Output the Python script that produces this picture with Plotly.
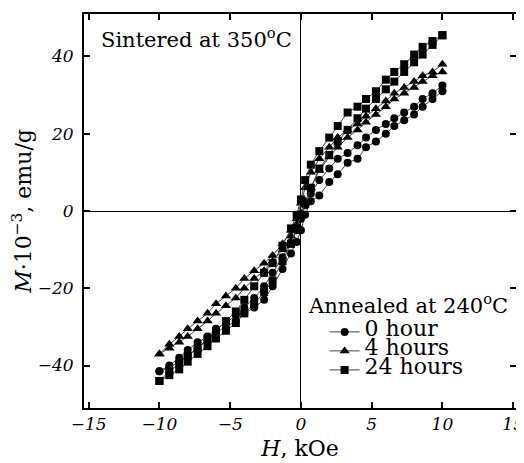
import plotly.graph_objects as go

# Field grid (kOe) for descending branch (+10 -> -10); ascending branch is the reverse
H_desc = [10, 9.3, 8.6, 8.0, 7.3, 6.6, 6.0, 5.3, 4.6, 4.0, 3.3, 2.6, 2.0, 1.3, 0.7, 0.3, 0,
          -0.3, -0.7, -1.3, -2.0, -2.6, -3.3, -4.0, -4.6, -5.3, -6.0, -6.6, -7.3, -8.0, -8.6, -9.3, -10]
H_asc = H_desc[::-1]

# 0 hour (circles)
M0_desc = [32.5, 30.5, 29, 27, 25.5, 24, 22.5, 21, 19, 17, 15, 13.5, 11, 8, 4.5, 1.5, -2,
           -5, -8, -12, -16, -19.5, -22.5, -25, -27, -29, -30.5, -32.5, -34, -36, -38, -40, -41.5]
M0_asc = [-41.5, -40.5, -39, -37.5, -35.5, -33.5, -31.5, -30, -28.5, -26.5, -25, -23, -19.5, -15, -11, -8, -5,
          -1, 2.5, 4, 7.5, 9.5, 12.5, 13.5, 16.5, 18, 20, 22, 23.5, 25, 27, 29, 31]

# 4 hours (triangles)
M4_desc = [38, 36, 35, 33.5, 32, 30.5, 28.5, 26.5, 24.5, 22.5, 21, 19, 16.5, 13.5, 10, 6, 2,
           -2, -5, -8.5, -11.5, -13.5, -15.5, -17.5, -20, -22, -24, -26.5, -28.5, -30.5, -32.5, -34.5, -37]
M4_asc = [-37, -35.5, -34, -32.5, -30.5, -28.5, -26.5, -24.5, -22.5, -20, -17.5, -15.5, -13, -10, -6.5, -3.5, -0.5,
          2.5, 6, 10.5, 14, 16.5, 19, 21, 23, 25, 27, 29, 30.5, 32, 33.5, 35, 36]

# 24 hours (squares)
M24_desc = [45.5, 44, 42.5, 40.5, 38, 36, 34, 31, 29, 27, 25.5, 22, 19, 15.5, 12, 8, 3,
            -1, -4.5, -9, -13.5, -16, -19.5, -23, -26, -28.5, -31, -33, -35.5, -37.5, -39.5, -41.5, -44]
M24_asc = [-44, -42.5, -41, -39, -37, -35, -33, -31, -29, -26.5, -24, -21, -18, -13, -8.5, -4.5, -1,
           2, 6, 11, 14.5, 18, 21, 24, 26.5, 29, 31.5, 33.5, 36, 38.5, 40.5, 43, 45.5]

series = [
    ("0 hour", M0_desc + M0_asc, "circle", 8),
    ("4 hours", M4_desc + M4_asc, "triangle-up", 9),
    ("24 hours", M24_desc + M24_asc, "square", 8),
]

FONT = "DejaVu Serif"
fig = go.Figure()
for name, M, sym, sz in series:
    fig.add_trace(go.Scatter(
        x=H_desc + H_asc, y=M, mode="lines+markers",
        name=f'<span style="font-size:22px">{name}</span>',
        line=dict(color="#444444", width=1),
        marker=dict(symbol=sym, size=sz, color="black"),
    ))

axis_common = dict(
    showline=True, linecolor="black", linewidth=2, mirror="allticks",
    ticks="inside", ticklen=6, tickwidth=1.5, tickcolor="black",
    showgrid=False, zeroline=True, zerolinecolor="black", zerolinewidth=1,
    automargin=False,
    tickfont=dict(family=FONT, size=17, color="black", style="italic"),
)

fig.update_xaxes(range=[-15.33, 15.2], tickvals=[-15, -10, -5, 0, 5, 10, 15],
                 title=dict(text="<i>H</i>, kOe", font=dict(family=FONT, size=22, color="black"), standoff=7),
                 **axis_common)
fig.update_yaxes(range=[-51, 51], tickvals=[-40, -20, 0, 20, 40],
                 ticklabelstandoff=5,
                 title=dict(text="<i>M</i>·10<sup>−3</sup>, emu/g", font=dict(family=FONT, size=22, color="black"), standoff=6),
                 **axis_common)

fig.add_annotation(xref="paper", yref="paper", x=0.034, y=0.939, xanchor="left", yanchor="middle",
                   text="Sintered at 350<sup>o</sup>C", showarrow=False,
                   font=dict(family=FONT, size=21, color="black"))
fig.add_annotation(xref="paper", yref="paper", x=0.514, y=0.263, xanchor="left", yanchor="middle",
                   text="Annealed at 240<sup>o</sup>C", showarrow=False,
                   font=dict(family=FONT, size=21, color="black"))

fig.update_layout(
    width=516, height=455,
    margin=dict(l=76, r=8, t=6, b=55),
    paper_bgcolor="white", plot_bgcolor="white",
    font=dict(family=FONT, color="black"),
    legend=dict(x=0.557, y=0.23, xanchor="left", yanchor="top",
                font=dict(family=FONT, size=11, color="black"),
                bgcolor="rgba(0,0,0,0)", borderwidth=0),
)

fig.write_html("out.html")
